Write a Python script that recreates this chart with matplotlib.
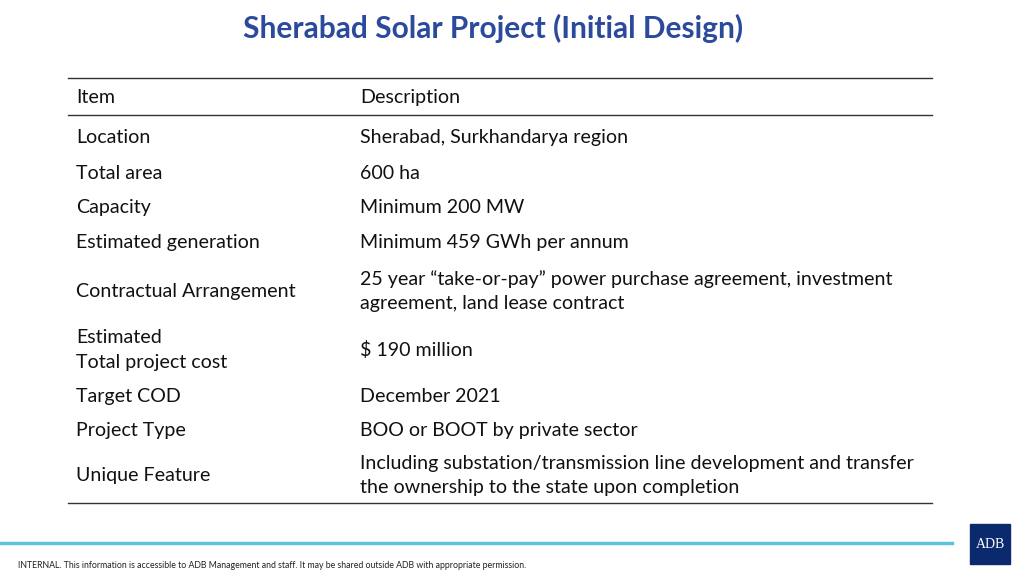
import matplotlib.pyplot as plt
from matplotlib.patches import Rectangle

plt.rcParams['font.family'] = ['Lato', 'DejaVu Sans']

# datos de la tabla
title = "Sherabad Solar Project (Initial Design)"
header = ["Item", "Description"]
items = [
    "Location",
    "Total area",
    "Capacity",
    "Estimated generation",
    "Contractual Arrangement",
    "Estimated\nTotal project cost",
    "Target COD",
    "Project Type",
    "Unique Feature",
]
descriptions = [
    "Sherabad, Surkhandarya region",
    "600 ha",
    "Minimum 200 MW",
    "Minimum 459 GWh per annum",
    "25 year \u201ctake-or-pay\u201d power purchase agreement, investment\nagreement, land lease contract",
    "$ 190 million",
    "December 2021",
    "BOO or BOOT by private sector",
    "Including substation/transmission line development and transfer\nthe ownership to the state upon completion",
]
footer = ("INTERNAL. This information is accessible to ADB Management and staff. "
          "It may be shared outside ADB with appropriate permission.")

# posiciones (pixeles desde arriba, linea base del texto)
W, H = 1024, 576
row_base = [143, 179, 213, 248, 297, 355.5, 402, 436, 481]
col_x = [76, 360]
line_gap = 25


def put_lines(x, yc, txt, **kw):
    # escribe cada linea por separado, centradas alrededor de yc
    lines = txt.split("\n")
    y0 = yc - line_gap * (len(lines) - 1) / 2
    for k, ln in enumerate(lines):
        ax.text(x, y0 + k * line_gap, ln, ha='left', va='baseline', **kw)


fig = plt.figure(figsize=(W / 100, H / 100), dpi=100)
ax = fig.add_axes([0, 0, 1, 1])
ax.set_xlim(0, W)
ax.set_ylim(H, 0)
ax.axis('off')

ax.text(493, 28, title, ha='center', va='center', fontsize=21.5, fontweight='bold',
        color='#2b4a9c')

# lineas de la tabla
for y in [78, 115, 503]:
    ax.plot([68, 932], [y, y], color='#333333', lw=1.0)

style = dict(fontsize=14.1, color='#111111')
put_lines(col_x[0], 103, header[0], **style)
put_lines(col_x[1], 103, header[1], **style)

for y, it, de in zip(row_base, items, descriptions):
    put_lines(col_x[0], y, it, **style)
    put_lines(col_x[1], y, de, **style)

# pie de pagina
ax.plot([0, 952], [543, 543], color='#5bc4dc', lw=2.5)
ax.add_patch(Rectangle((970, 524), 40, 40, color='#0b2a6e'))
ax.text(990, 545, "ADB", ha='center', va='center', fontsize=10, color='white',
        family=['Liberation Serif', 'DejaVu Serif'])
ax.text(18, 565, footer, ha='left', va='center', fontsize=6.3, color='#222222')

fig.savefig('out.png', dpi=100)
